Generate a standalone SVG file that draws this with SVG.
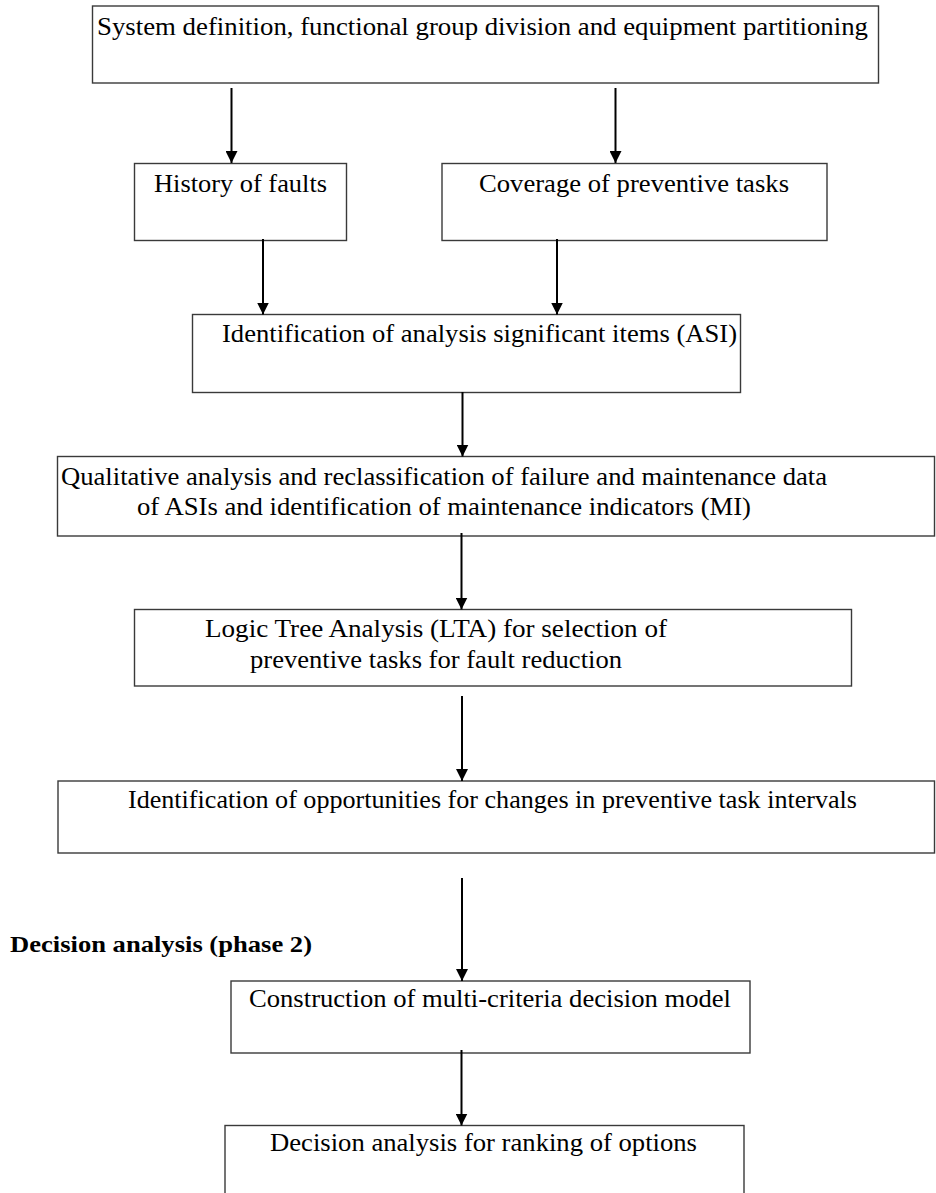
<svg xmlns="http://www.w3.org/2000/svg" width="936" height="1193" viewBox="0 0 936 1193">
  <defs>
    <marker id="head" viewBox="0 0 12 12" refX="12" refY="6" markerWidth="12" markerHeight="12" markerUnits="userSpaceOnUse" orient="auto">
      <path d="M0,0 L12,6 L0,12 Z" fill="#000"/>
    </marker>
    <style>
      .box { fill: #fff; stroke: #3a3a3a; stroke-width: 1.4; }
      .lbl { font-family: "Liberation Serif", "Times New Roman", serif; font-size: 25.5px; fill: #000; }
      .hdr { font-family: "Liberation Serif", "Times New Roman", serif; font-size: 24px; font-weight: bold; fill: #000; }
      .arrow { stroke: #000; stroke-width: 2; fill: none; marker-end: url(#head); }
    </style>
  </defs>
  <rect width="936" height="1193" fill="#fff"/>

  <!-- Phase 2 heading -->
  <text class="hdr" x="10" y="952" textLength="302" lengthAdjust="spacingAndGlyphs">Decision analysis (phase 2)</text>

  <g id="system-definition">
    <rect class="box" x="92.5" y="6" width="786" height="77"/>
    <text class="lbl" x="97" y="35" textLength="771" lengthAdjust="spacingAndGlyphs">System definition, functional group division and equipment partitioning</text>
  </g>

  <g id="history-of-faults">
    <rect class="box" x="134.5" y="163.5" width="212" height="77"/>
    <text class="lbl" x="154" y="192" textLength="173" lengthAdjust="spacingAndGlyphs">History of faults</text>
  </g>

  <g id="coverage-of-tasks">
    <rect class="box" x="442" y="163.5" width="385" height="77"/>
    <text class="lbl" x="479" y="192" textLength="310" lengthAdjust="spacingAndGlyphs">Coverage of preventive tasks</text>
  </g>

  <g id="asi-identification">
    <rect class="box" x="192.5" y="314.5" width="548" height="78"/>
    <text class="lbl" x="222" y="342" textLength="515" lengthAdjust="spacingAndGlyphs">Identification of analysis significant items (ASI)</text>
  </g>

  <g id="qualitative-analysis">
    <rect class="box" x="57.5" y="456.5" width="877" height="79.5"/>
    <text class="lbl" x="61" y="485" textLength="766" lengthAdjust="spacingAndGlyphs">Qualitative analysis and reclassification of failure and maintenance data</text>
    <text class="lbl" x="137" y="515" textLength="614" lengthAdjust="spacingAndGlyphs">of ASIs and identification of maintenance indicators (MI)</text>
  </g>

  <g id="logic-tree-analysis">
    <rect class="box" x="134.5" y="609.5" width="717" height="76.5"/>
    <text class="lbl" x="205" y="637" textLength="462" lengthAdjust="spacingAndGlyphs">Logic Tree Analysis (LTA) for selection of</text>
    <text class="lbl" x="250" y="668" textLength="372" lengthAdjust="spacingAndGlyphs">preventive tasks for fault reduction</text>
  </g>

  <g id="interval-opportunities">
    <rect class="box" x="58" y="781" width="876.5" height="72"/>
    <text class="lbl" x="128" y="808" textLength="729" lengthAdjust="spacingAndGlyphs">Identification of opportunities for changes in preventive task intervals</text>
  </g>

  <g id="decision-model">
    <rect class="box" x="231" y="981" width="519" height="72"/>
    <text class="lbl" x="249" y="1007" textLength="482" lengthAdjust="spacingAndGlyphs">Construction of multi-criteria decision model</text>
  </g>

  <g id="ranking-of-options">
    <rect class="box" x="225" y="1125.5" width="519" height="80"/>
    <text class="lbl" x="270" y="1151" textLength="427" lengthAdjust="spacingAndGlyphs">Decision analysis for ranking of options</text>
  </g>

  <g id="connectors">
    <line class="arrow" x1="231.5" y1="88" x2="231.5" y2="163"/>
    <line class="arrow" x1="615.5" y1="88" x2="615.5" y2="163"/>
    <line class="arrow" x1="263" y1="239" x2="263" y2="314.5"/>
    <line class="arrow" x1="557" y1="239" x2="557" y2="314.5"/>
    <line class="arrow" x1="462.5" y1="392" x2="462.5" y2="456.5"/>
    <line class="arrow" x1="461.5" y1="533" x2="461.5" y2="609.5"/>
    <line class="arrow" x1="462" y1="696" x2="462" y2="781"/>
    <line class="arrow" x1="462" y1="878" x2="462" y2="981"/>
    <line class="arrow" x1="461.5" y1="1050" x2="461.5" y2="1125.5"/>
  </g>
</svg>
